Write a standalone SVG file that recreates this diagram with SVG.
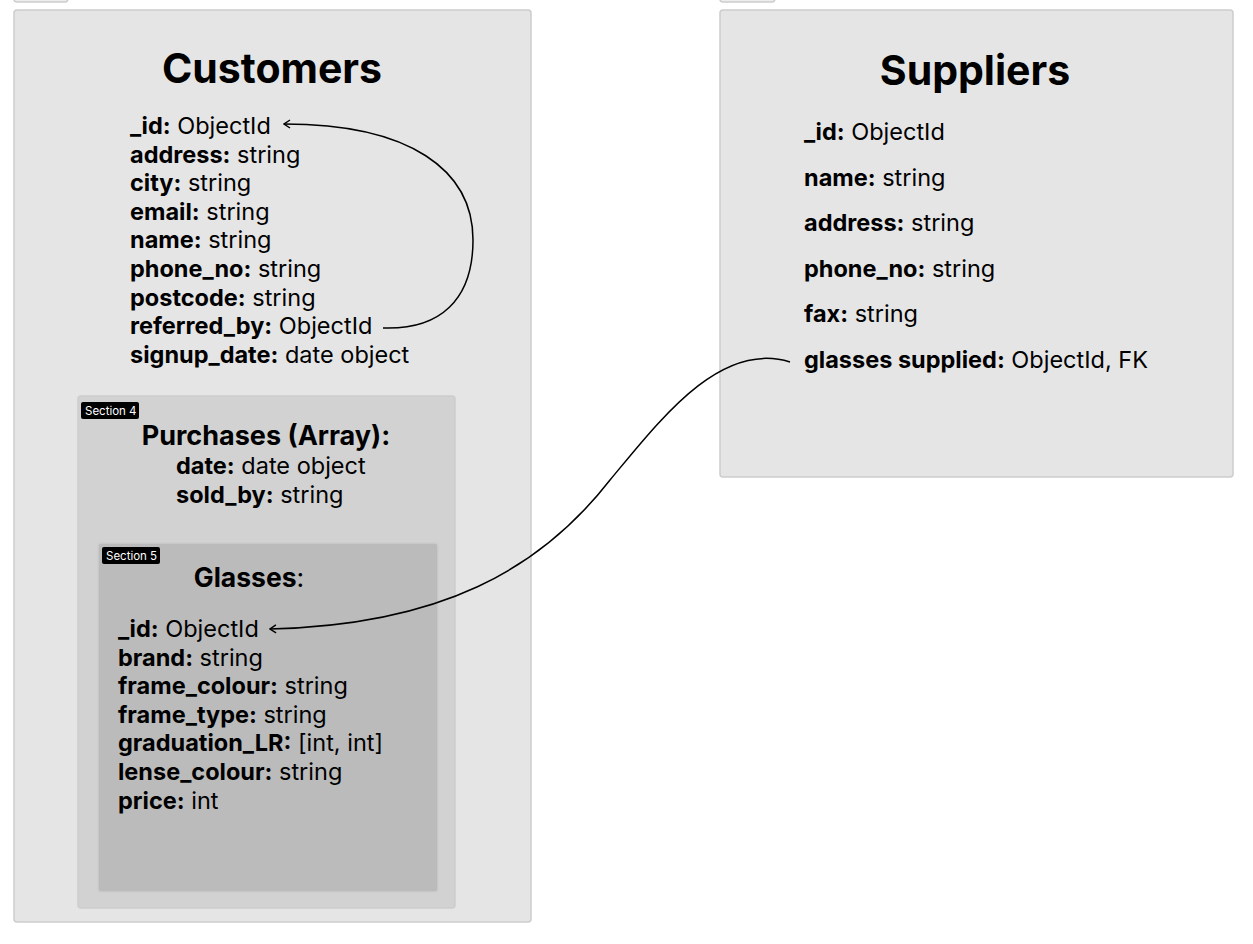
<svg xmlns="http://www.w3.org/2000/svg" width="1253" height="944" viewBox="0 0 1253 944">
<style>
.box{stroke:#cdcdcd;stroke-width:1.5}
.tab{fill:#ededed;stroke:#cdcdcd;stroke-width:1.5}
.title{font-family:Inter,"Liberation Sans",sans-serif;font-weight:700;font-size:41px;fill:#000}
.f{font-family:Inter,"Liberation Sans",sans-serif;font-size:23.5px;fill:#000}
.sub{font-family:Inter,"Liberation Sans",sans-serif;font-size:26.5px;fill:#000}
.b{font-weight:700}
.lbl{font-family:Inter,"Liberation Sans",sans-serif;font-size:11.5px;fill:#fff}
.conn{fill:none;stroke:#000;stroke-width:1.5}
</style>
<defs>
<marker id="arr" viewBox="0 0 10 10" refX="9" refY="5" markerWidth="10" markerHeight="10" markerUnits="userSpaceOnUse" orient="auto">
<polyline points="3,1 9,5 3,9" fill="none" stroke="#000" stroke-width="1.4"/>
</marker>
</defs>
<rect width="1253" height="944" fill="#fff"/>
<rect class="tab" x="14" y="-12" width="54" height="14" rx="3"/>
<rect class="tab" x="720" y="-12" width="55" height="14" rx="3"/>
<g id="customers">
<rect class="box" x="14" y="10" width="517" height="912" rx="3" fill="#e5e5e5"/>
<text class="title" x="272" y="83" text-anchor="middle">Customers</text>
<text class="f" x="130" y="134"><tspan class="b">_id:</tspan> ObjectId</text>
<text class="f" x="130" y="162.6"><tspan class="b">address:</tspan> string</text>
<text class="f" x="130" y="191.2"><tspan class="b">city:</tspan> string</text>
<text class="f" x="130" y="219.8"><tspan class="b">email:</tspan> string</text>
<text class="f" x="130" y="248.4"><tspan class="b">name:</tspan> string</text>
<text class="f" x="130" y="277"><tspan class="b">phone_no:</tspan> string</text>
<text class="f" x="130" y="305.6"><tspan class="b">postcode:</tspan> string</text>
<text class="f" x="130" y="334.2"><tspan class="b">referred_by:</tspan> ObjectId</text>
<text class="f" x="130" y="362.8"><tspan class="b">signup_date:</tspan> date object</text>
</g>
<g id="purchases">
<rect class="box" x="78" y="396" width="377" height="512" rx="3" fill="#d2d2d2"/>
<rect x="81" y="402" width="58" height="17" rx="2" fill="#000"/>
<text class="lbl" x="85" y="414.5">Section 4</text>
<text class="sub b" x="266" y="445" text-anchor="middle" style="font-size:27px">Purchases (Array):</text>
<text class="f" x="176" y="474"><tspan class="b">date:</tspan> date object</text>
<text class="f" x="176" y="502.6"><tspan class="b">sold_by:</tspan> string</text>
</g>
<g id="glasses">
<rect class="box" x="98" y="543" width="340" height="349" rx="3" fill="#bbbbbb"/>
<rect x="102" y="547" width="58" height="17" rx="2" fill="#000"/>
<text class="lbl" x="106" y="559.5">Section 5</text>
<text class="sub" x="249" y="587" text-anchor="middle"><tspan class="b">Glasses</tspan>:</text>
<text class="f" x="118" y="637"><tspan class="b">_id:</tspan> ObjectId</text>
<text class="f" x="118" y="665.6"><tspan class="b">brand:</tspan> string</text>
<text class="f" x="118" y="694.2"><tspan class="b">frame_colour:</tspan> string</text>
<text class="f" x="118" y="722.8"><tspan class="b">frame_type:</tspan> string</text>
<text class="f" x="118" y="751.4"><tspan class="b">graduation_LR:</tspan> [int, int]</text>
<text class="f" x="118" y="780"><tspan class="b">lense_colour:</tspan> string</text>
<text class="f" x="118" y="808.6"><tspan class="b">price:</tspan> int</text>
</g>
<g id="suppliers">
<rect class="box" x="720" y="10" width="513" height="467" rx="3" fill="#e5e5e5"/>
<text class="title" x="975" y="85" text-anchor="middle">Suppliers</text>
<text class="f" x="804" y="140"><tspan class="b">_id:</tspan> ObjectId</text>
<text class="f" x="804" y="185.5"><tspan class="b">name:</tspan> string</text>
<text class="f" x="804" y="231"><tspan class="b">address:</tspan> string</text>
<text class="f" x="804" y="276.5"><tspan class="b">phone_no:</tspan> string</text>
<text class="f" x="804" y="322"><tspan class="b">fax:</tspan> string</text>
<text class="f" x="804" y="367.5"><tspan class="b">glasses supplied:</tspan> ObjectId, FK</text>
</g>
<g id="connectors">
<path class="conn" marker-end="url(#arr)" d="M 383 328 C 440 330, 473 300, 473 240 C 473 170, 410 124, 284 124"/>
<path class="conn" marker-end="url(#arr)" d="M 790 362 C 720 340, 660 420, 610 480 C 540 570, 440 625, 270 629"/>
</g>
</svg>
